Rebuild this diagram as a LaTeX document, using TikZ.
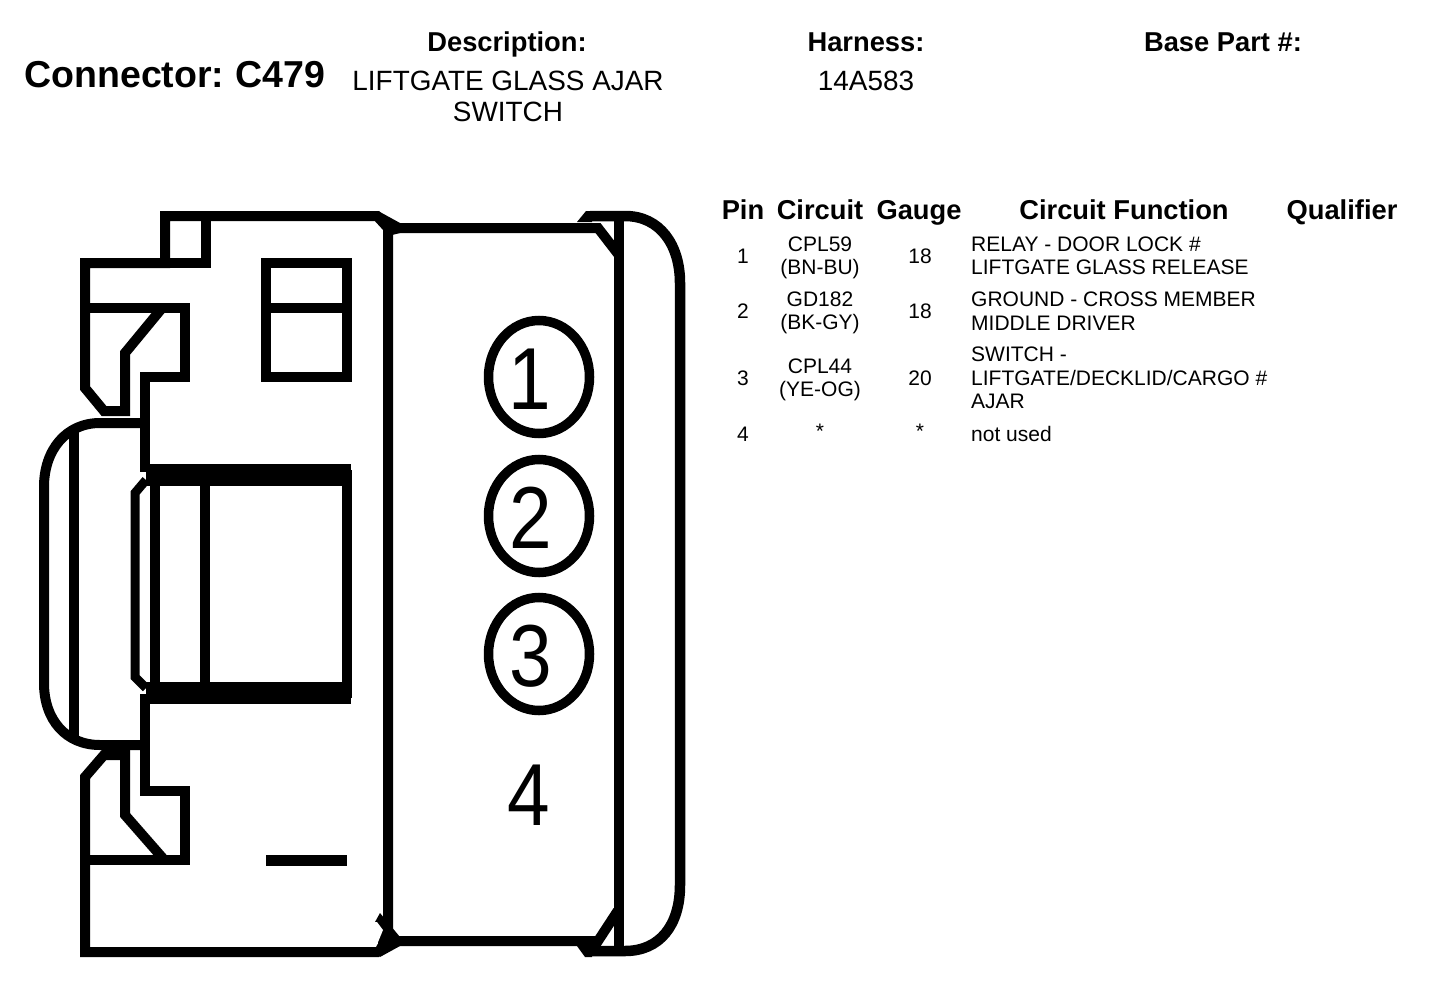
\documentclass[tikz,border=0pt]{standalone}
\usepackage{fontspec}
\setmainfont{Liberation Sans}
\newfontfamily\pinfont[FakeStretch=0.87]{Liberation Sans}
\usetikzlibrary{shapes.geometric}
\begin{document}
\begin{tikzpicture}[x=1pt, y=-1pt,
		wall/.style={line width=10pt, line join=miter, line cap=rect},
		thickbar/.style={line width=22pt},
		pinring/.style={shape=ellipse, draw, line width=9.5pt, inner sep=0pt,
			minimum width=101pt, minimum height=113pt},
		pinnum/.style={font=\fontsize{88}{88}\selectfont\pinfont},
		title/.style={font=\fontsize{37.5}{40}\selectfont\bfseries, anchor=base},
		head/.style={font=\fontsize{27.3}{30}\selectfont\bfseries, anchor=base},
		desc/.style={font=\fontsize{27.9}{31}\selectfont, align=center},
		cell/.style={font=\fontsize{21}{23.5}\selectfont, align=center, inner sep=0pt},
		func/.style={cell, align=left, anchor=west}]
		\useasboundingbox (0,0) rectangle (1440,982);
		% header
		\node[title] (connector) at (175,87) {Connector:\hspace{11.4pt}C479};
		\node[head] (description) at (507,52) {Description:};
		\node[desc] (descText) at (508,96) {LIFTGATE GLASS AJAR\\SWITCH};
		\node[head] (harness) at (866,52) {Harness:};
		\node[desc] (harnessText) at (866,81) {14A583};
		\node[head] (basePart) at (1223,52) {Base Part \#:};
		% table
		\node[head] (pinHead) at (743,219) {Pin};
		\node[head] (circuitHead) at (820,219) {Circuit};
		\node[head] (gaugeHead) at (919,219) {Gauge};
		\node[head] (functionHead) at (1124,219) {Circuit Function};
		\node[head] (qualifierHead) at (1342,219) {Qualifier};
		\node[cell] (pin1) at (743,256) {1};
		\node[cell] (circuit1) at (820,258) {CPL59\\(BN-BU)};
		\node[cell] (gauge1) at (920,256) {18};
		\node[func] (function1) at (971,256) {RELAY - DOOR LOCK \#\\LIFTGATE GLASS RELEASE};
		\node[cell] (pin2) at (743,311) {2};
		\node[cell] (circuit2) at (820,313) {GD182\\(BK-GY)};
		\node[cell] (gauge2) at (920,311) {18};
		\node[func] (function2) at (971,311) {GROUND - CROSS MEMBER\\MIDDLE DRIVER};
		\node[cell] (pin3) at (743,378) {3};
		\node[cell] (circuit3) at (820,380) {CPL44\\(YE-OG)};
		\node[cell] (gauge3) at (920,378) {20};
		\node[func] (function3) at (971,378) {SWITCH -\\LIFTGATE/DECKLID/CARGO \#\\AJAR};
		\node[cell] (pin4) at (743,434) {4};
		\node[cell] (circuit4) at (820,431) {*};
		\node[cell] (gauge4) at (920,431) {*};
		\node[func] (function4) at (971,434) {not used};
		% connector body
		\draw[wall] (158,313) -- (125,353) -- (125,411) -- (104,411) -- (85,388) -- (85,263) -- (165,263) -- (165,216) -- (377,216) -- (388,228) -- (388,941) -- (377,952) -- (85,952) -- (85,777) -- (104,755) -- (125,755) -- (125,815) -- (160,855);
		\draw[wall] (206,216) -- (206,263) -- (165,263);
		\draw[wall] (85,308) -- (185,308) -- (185,377) -- (145,377) -- (145,467);
		\draw[wall] (266,263) rectangle (347,377);
		\draw[wall] (266,308) -- (347,308);
		\draw[wall] (145,699) -- (145,791) -- (185,791) -- (185,860) -- (85,860);
		\draw[line width=11pt] (266,860) -- (347,860);
		% corner blobs
		\fill (380,212) -- (400,223) -- (400,233) -- (388,236) -- cycle;
		\fill (375,922) -- (380,913) -- (390,925) -- (400,937) -- (400,946) -- (380,957) -- cycle;
		\fill[white] (377,922) -- (383,930) -- (376,947) -- (360,947) -- (360,922) -- cycle;
		\draw[line width=10pt] (85,952) -- (377,952);
		% latch window
		\draw[thickbar] (146,475) -- (351,475);
		\draw[thickbar] (146,693) -- (351,693);
		\draw[wall] (155,475) -- (155,693);
		\draw[wall] (205,475) -- (205,693);
		\draw[wall] (347,475) -- (347,693);
		\draw[line width=9pt] (146,480) -- (135,493) -- (135,677) -- (146,688);
		% left bump
		\draw[line width=10pt] (145,423) -- (100,423) .. controls (66,423) and (44,450) .. (44,487) -- (44,683) .. controls (44,720) and (66,745) .. (100,745) -- (145,745);
		\draw[line width=10pt] (74,430) -- (74,737);
		% pin block
		\draw[wall] (388,228) -- (598,228) -- (615,250);
		\draw[wall] (388,941) -- (598,941) -- (615,915);
		\draw[line width=10pt] (619,216) -- (619,951);
		\draw[line width=10.5pt] (590,216) -- (625,216) .. controls (660,216) and (680,245) .. (680,283) -- (680,885) .. controls (680,925) and (660,951) .. (625,951) -- (590,951);
		\fill (577,222) -- (586,211) -- (592,211) -- (592,222) -- cycle;
		\fill (577,946) -- (585,957) -- (592,957) -- (592,946) -- cycle;
		% pins
		\node[pinring] (ring1) at (539,377) {};
		\node[pinring] (ring2) at (539,516) {};
		\node[pinring] (ring3) at (539,654) {};
		\node[pinnum] (num1) at (530,379) {1};
		\node[pinnum] (num2) at (531,518) {2};
		\node[pinnum] (num3) at (531,656) {3};
		\node[pinnum] (num4) at (529,795) {4};
\end{tikzpicture}
\end{document}
